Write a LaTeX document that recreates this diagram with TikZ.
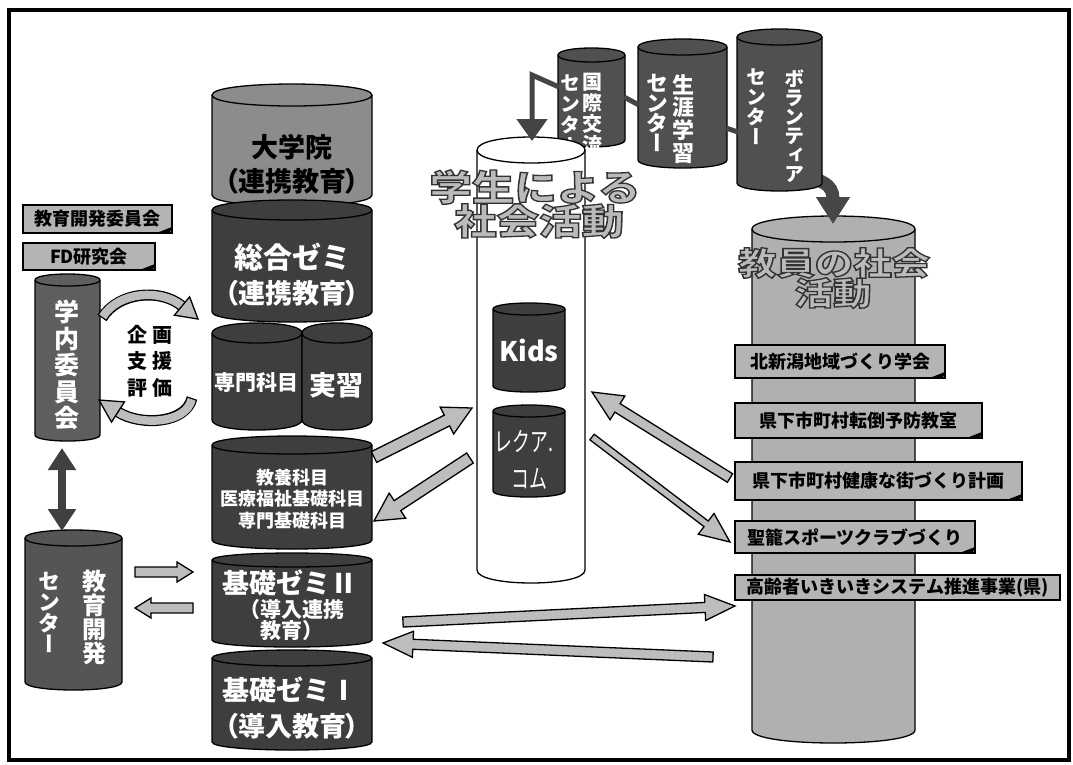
\documentclass[tikz,border=0pt]{standalone}
\usepackage{fontspec}
\setmainfont{Noto Sans CJK JP}
\newfontfamily\vjp{Noto Sans CJK JP}[RawFeature=+vert]
\newfontfamily\pjp{Noto Sans CJK JP}[RawFeature=+palt]
\usetikzlibrary{calc,arrows.meta}
\definecolor{midgray}{HTML}{8C8C8C}
\definecolor{darkcyl}{HTML}{3E3E3E}
\definecolor{gakunaigray}{HTML}{5E5E5E}
\definecolor{kyoikugray}{HTML}{555555}
\definecolor{smallgray}{HTML}{505050}
\definecolor{lightcyl}{HTML}{B0B0B0}
\definecolor{boxgray}{HTML}{B4B4B4}
\definecolor{arrgray}{HTML}{BDBDBD}
\definecolor{dblgray}{HTML}{404040}
\definecolor{darkarrow}{HTML}{474747}
\definecolor{titlefill}{HTML}{BBBBBB}
\definecolor{conngray}{HTML}{444444}
\newcommand\fs[2]{\fontsize{#1}{#2}\selectfont}
% cylinder: x1, x2, y of top ellipse centre, y of bottom ellipse centre, ry, fill
\newcommand\cyl[6]{%
 \filldraw[fill=#6, draw=black, line width=1.3pt] (#1,#3) -- (#1,#4) .. controls (#1,#4+1.333*#5) and (#2,#4+1.333*#5) .. (#2,#4) -- (#2,#3) .. controls (#2,#3-1.333*#5) and (#1,#3-1.333*#5) .. (#1,#3) -- cycle;
 \draw[black, line width=1.3pt] (#1,#3) .. controls (#1,#3+1.333*#5) and (#2,#3+1.333*#5) .. (#2,#3);}
% block arrow: tail, tip, shaft half width, head half width, head length
\newcommand\barrow[5]{%
 \filldraw[barrowsty]
  ($(#1)!#3!90:(#2)$) --
  ($(#2)!#5!(#1)!#3!270:(#1)$) --
  ($(#2)!#5!(#1)!#4!270:(#1)$) --
  (#2) --
  ($(#2)!#5!(#1)!#4!90:(#1)$) --
  ($(#2)!#5!(#1)!#3!90:(#1)$) --
  ($(#1)!#3!270:(#2)$) -- cycle;}
% outlined text (fill + stroke render mode)
\newcommand\outl[1]{\special{pdf:code 2 Tr 1.3 w 0.2 G}#1\special{pdf:code 0 Tr}}
\tikzset{
 lbl/.style={inner sep=0pt, align=center},
 wt/.style={lbl, text=white, font=\bfseries},
 bk/.style={lbl, text=black, font=\bfseries},
 ttl/.style={lbl, text=titlefill},
 labelbox/.style={draw=black, line width=1.4pt, fill=boxgray, inner sep=0pt, font=\bfseries\fs{18}{20}},
 barrowsty/.style={draw=black, line width=1.3pt, fill=arrgray, line join=miter},
 conn/.style={draw=conngray, line width=5pt},
}
\newcommand\fold[1]{\fill[black] ($(#1.south east)+(-18,0)$) -- ($(#1.south east)+(0,-7)$) -- ($(#1.south east)+(-3,-1)$) -- cycle;}
\begin{document}
\begin{tikzpicture}[x=1pt,y=-1pt]
\useasboundingbox (0,0) rectangle (1073,764);
\draw[line width=3.5pt] (9,10) rectangle (1069,760);
\draw[line width=2.5pt] (8.5,10) -- (8.5,760);

% ---------- central stack ----------
\cyl{212}{372}{95}{195}{11}{midgray}
\node[bk, font=\bfseries\fs{27}{30}] (daigakuin) at (292,147) {大学院};
\node[bk, font=\pjp\bfseries\fs{27}{30}] (daigakuin2) at (292,181) {（連携教育）};

\cyl{212}{372}{210}{312}{10}{darkcyl}
\node[wt, font=\bfseries\fs{29}{30}] (sogo) at (292,257) {総合ゼミ};
\node[wt, font=\pjp\bfseries\fs{27}{30}] (sogo2) at (292,293) {（連携教育）};

\cyl{212}{302}{333}{420}{10}{darkcyl}
\cyl{302}{372}{333}{420}{10}{darkcyl}
\node[wt, font=\bfseries\fs{21}{22}] (senmon) at (256,382) {専門科目};
\node[wt, font=\bfseries\fs{27}{30}] (jisshu) at (336,385) {実習};

\cyl{212}{372}{445}{540}{9}{darkcyl}
\node[wt, font=\bfseries\fs{18}{21.5}] (kyoyo) at (292,499) {教養科目\\医療福祉基礎科目\\専門基礎科目};

\cyl{212}{372}{560}{640}{7}{darkcyl}
\node[wt, font=\bfseries\fs{27}{30}] (kiso2) at (290,583) {基礎ゼミⅡ};
\node[wt, font=\bfseries\fs{21}{21}] (kiso2b) at (292,620) {（導入連携\\教育）};

\cyl{212}{372}{658}{742}{8}{darkcyl}
\node[wt, font=\bfseries\fs{27}{30}] (kiso1) at (290,690) {基礎ゼミⅠ};
\node[wt, font=\pjp\bfseries\fs{27}{30}] (kiso1b) at (292,726) {（導入教育）};

% ---------- left side ----------
\node[labelbox, minimum width=149, minimum height=28] (iinkai) at (97.5,219) {教育開発委員会};
\fold{iinkai}
\node[labelbox, minimum width=132, minimum height=27] (fd) at (89,256.5) {FD研究会};
\fold{fd}

\cyl{35}{100}{280}{435}{6}{gakunaigray}
\node[wt, font=\vjp\bfseries\fs{25}{26.5}] (gakunai) at (67,365) {学\\内\\委\\員\\会};

% cycle arrows
\draw[line width=11pt, black] (102,318) .. controls (118,292) and (160,288) .. (182,306);
\draw[line width=8.4pt, arrgray, shorten <=1.3pt] (102,318) .. controls (118,292) and (160,288) .. (182,306);
\filldraw[barrowsty] (189.6,296.8) -- (198,319) -- (174.4,315.2) -- cycle;
\draw[line width=11pt, black] (192,398) .. controls (186,424) and (140,426) .. (118,412);
\draw[line width=8.4pt, arrgray, shorten <=1.3pt] (192,398) .. controls (186,424) and (140,426) .. (118,412);
\filldraw[barrowsty] (124.5,401.9) -- (99,400) -- (111.5,422.1) -- cycle;
\node[bk, font=\bfseries\fs{20}{26.5}] (kikaku) at (150,361) {企 画\\支 援\\評 価};

\coordinate (gkb) at (62,448);
\coordinate (kyt) at (62,531);
\draw[line width=8pt, draw=dblgray, {Triangle[length=22pt,width=27pt]}-{Triangle[length=22pt,width=27pt]}] (gkb) -- (kyt);

\cyl{25}{122}{538}{682}{8}{kyoikugray}
\node[wt, font=\vjp\bfseries\fs{24}{24}] (kyoiku) at (94,617) {教\\育\\開\\発};
\node[wt, font=\vjp\bfseries\fs{22}{21}] (kyoikuc) at (49,612) {セ\\ン\\タ\\ー};

\coordinate (h1a) at (135,572); \coordinate (h1b) at (193,572);
\coordinate (h2a) at (193,608); \coordinate (h2b) at (135,608);
\barrow{h1a}{h1b}{5pt}{10pt}{16pt}
\barrow{h2a}{h2b}{5pt}{10pt}{16pt}

% ---------- top centres ----------
\cyl{558}{625}{55}{140}{7}{smallgray}
\node[wt, font=\vjp\bfseries\fs{20}{21}] (kokusai) at (592,114) {国\\際\\交\\流};
\node[wt, font=\vjp\bfseries\fs{20}{21}] (kokusaic) at (570,114) {セ\\ン\\タ\\ー};

\cyl{638}{727}{47}{160}{8}{smallgray}
\node[wt, font=\vjp\bfseries\fs{22}{22.7}] (shogai) at (683,119) {生\\涯\\学\\習};
\node[wt, font=\vjp\bfseries\fs{22}{20}] (shogaic) at (657,113) {セ\\ン\\タ\\ー};

% arrow from volunteer centre to staff cylinder (behind the centre)
\coordinate (vb) at (792,172);
\coordinate (ktop) at (833,224);
\draw[line width=13pt, draw=darkarrow, -{Triangle[length=27pt,width=32pt]}] (vb) .. controls (822,180) and (833,184) .. (ktop);

\cyl{737}{822}{37}{183}{8}{smallgray}
\node[wt, font=\vjp\bfseries\fs{20}{19}] (volun) at (794,126) {ボ\\ラ\\ン\\テ\\ィ\\ア};
\node[wt, font=\vjp\bfseries\fs{20}{20}] (volunc) at (756,107) {セ\\ン\\タ\\ー};

% ---------- student activity cylinder ----------
\cyl{477}{585}{150}{570}{13}{white}
\node[ttl, font=\bfseries\fs{36}{36}] (gakusei1) at (535,187) {\outl{\scalebox{1.18}[1]{学生による}}};
\node[ttl, font=\bfseries\fs{36}{36}] (gakusei2) at (539,221) {\outl{\scalebox{1.18}[1]{社会活動}}};

\cyl{493}{565}{309}{386}{6}{darkcyl}
\node[wt, font=\bfseries\fs{27}{28}] (kids) at (529,350) {Kids};
\cyl{493}{565}{411}{491}{6}{darkcyl}
\node[wt, font=\fs{21}{22}] (recqua1) at (524,441) {\scalebox{0.85}[1.25]{レクア.}};
\node[wt, font=\fs{21}{22}] (recqua2) at (529,479) {\scalebox{0.85}[1.25]{コム}};

% connectors between centres
\coordinate (kkl) at (559,87);
\coordinate (kcorner) at (532,75);
\coordinate (sttop) at (532,141);
\draw[conn, line join=miter, -{Triangle[length=22pt,width=30pt]}] (kkl) -- (kcorner) -- (sttop);
\coordinate (kkr) at (624,97); \coordinate (shl) at (639,105);
\draw[conn] (kkr) -- (shl);
\coordinate (shr) at (726,128); \coordinate (vol) at (738,132);
\draw[conn] (shr) -- (vol);

% ---------- staff activity cylinder ----------
\cyl{752}{915}{229}{730}{13}{lightcyl}
\draw[line width=13pt, draw=darkarrow, -{Triangle[length=27pt,width=32pt]}] (833,205) -- (ktop);
\node[ttl, font=\bfseries\fs{32}{32}] (kyoin1) at (834,263) {\outl{\scalebox{1.2}[1]{教員の社会}}};
\node[ttl, font=\bfseries\fs{32}{32}] (kyoin2) at (833,293) {\outl{\scalebox{1.2}[1]{活動}}};

\node[labelbox, minimum width=210, minimum height=33] (b1) at (840,361.5) {北新潟地域づくり学会};
\fold{b1}
\node[labelbox, minimum width=247, minimum height=35] (b2) at (858.5,420.5) {県下市町村転倒予防教室};
\fold{b2}
\node[labelbox, minimum width=287, minimum height=38] (b3) at (878.5,481) {県下市町村健康な街づくり計画};
\fold{b3}
\node[labelbox, minimum width=240, minimum height=32] (b4) at (855,537) {聖籠スポーツクラブづくり};
\fold{b4}
\node[labelbox, minimum width=325, minimum height=25, font=\bfseries\fs{18}{20}] (b5) at (897.5,587.5) {高齢者いきいきシステム推進事業(県)};

% ---------- block arrows ----------
\coordinate (a1t) at (374,457); \coordinate (a1h) at (472,408);
\coordinate (a2t) at (470,458); \coordinate (a2h) at (374,521);
\coordinate (a3t) at (730,478); \coordinate (a3h) at (592,392);
\coordinate (a4t) at (592,437); \coordinate (a4h) at (730,542);
\coordinate (a5t) at (403,622); \coordinate (a5h) at (735,606);
\coordinate (a6t) at (713,657); \coordinate (a6h) at (383,643);
\barrow{a1t}{a1h}{6pt}{15pt}{28pt}
\barrow{a2t}{a2h}{6pt}{15pt}{28pt}
\barrow{a3t}{a3h}{5pt}{14pt}{30pt}
\barrow{a4t}{a4h}{3.5pt}{13pt}{30pt}
\barrow{a5t}{a5h}{5pt}{13pt}{30pt}
\barrow{a6t}{a6h}{5pt}{13pt}{30pt}
\end{tikzpicture}
\end{document}
